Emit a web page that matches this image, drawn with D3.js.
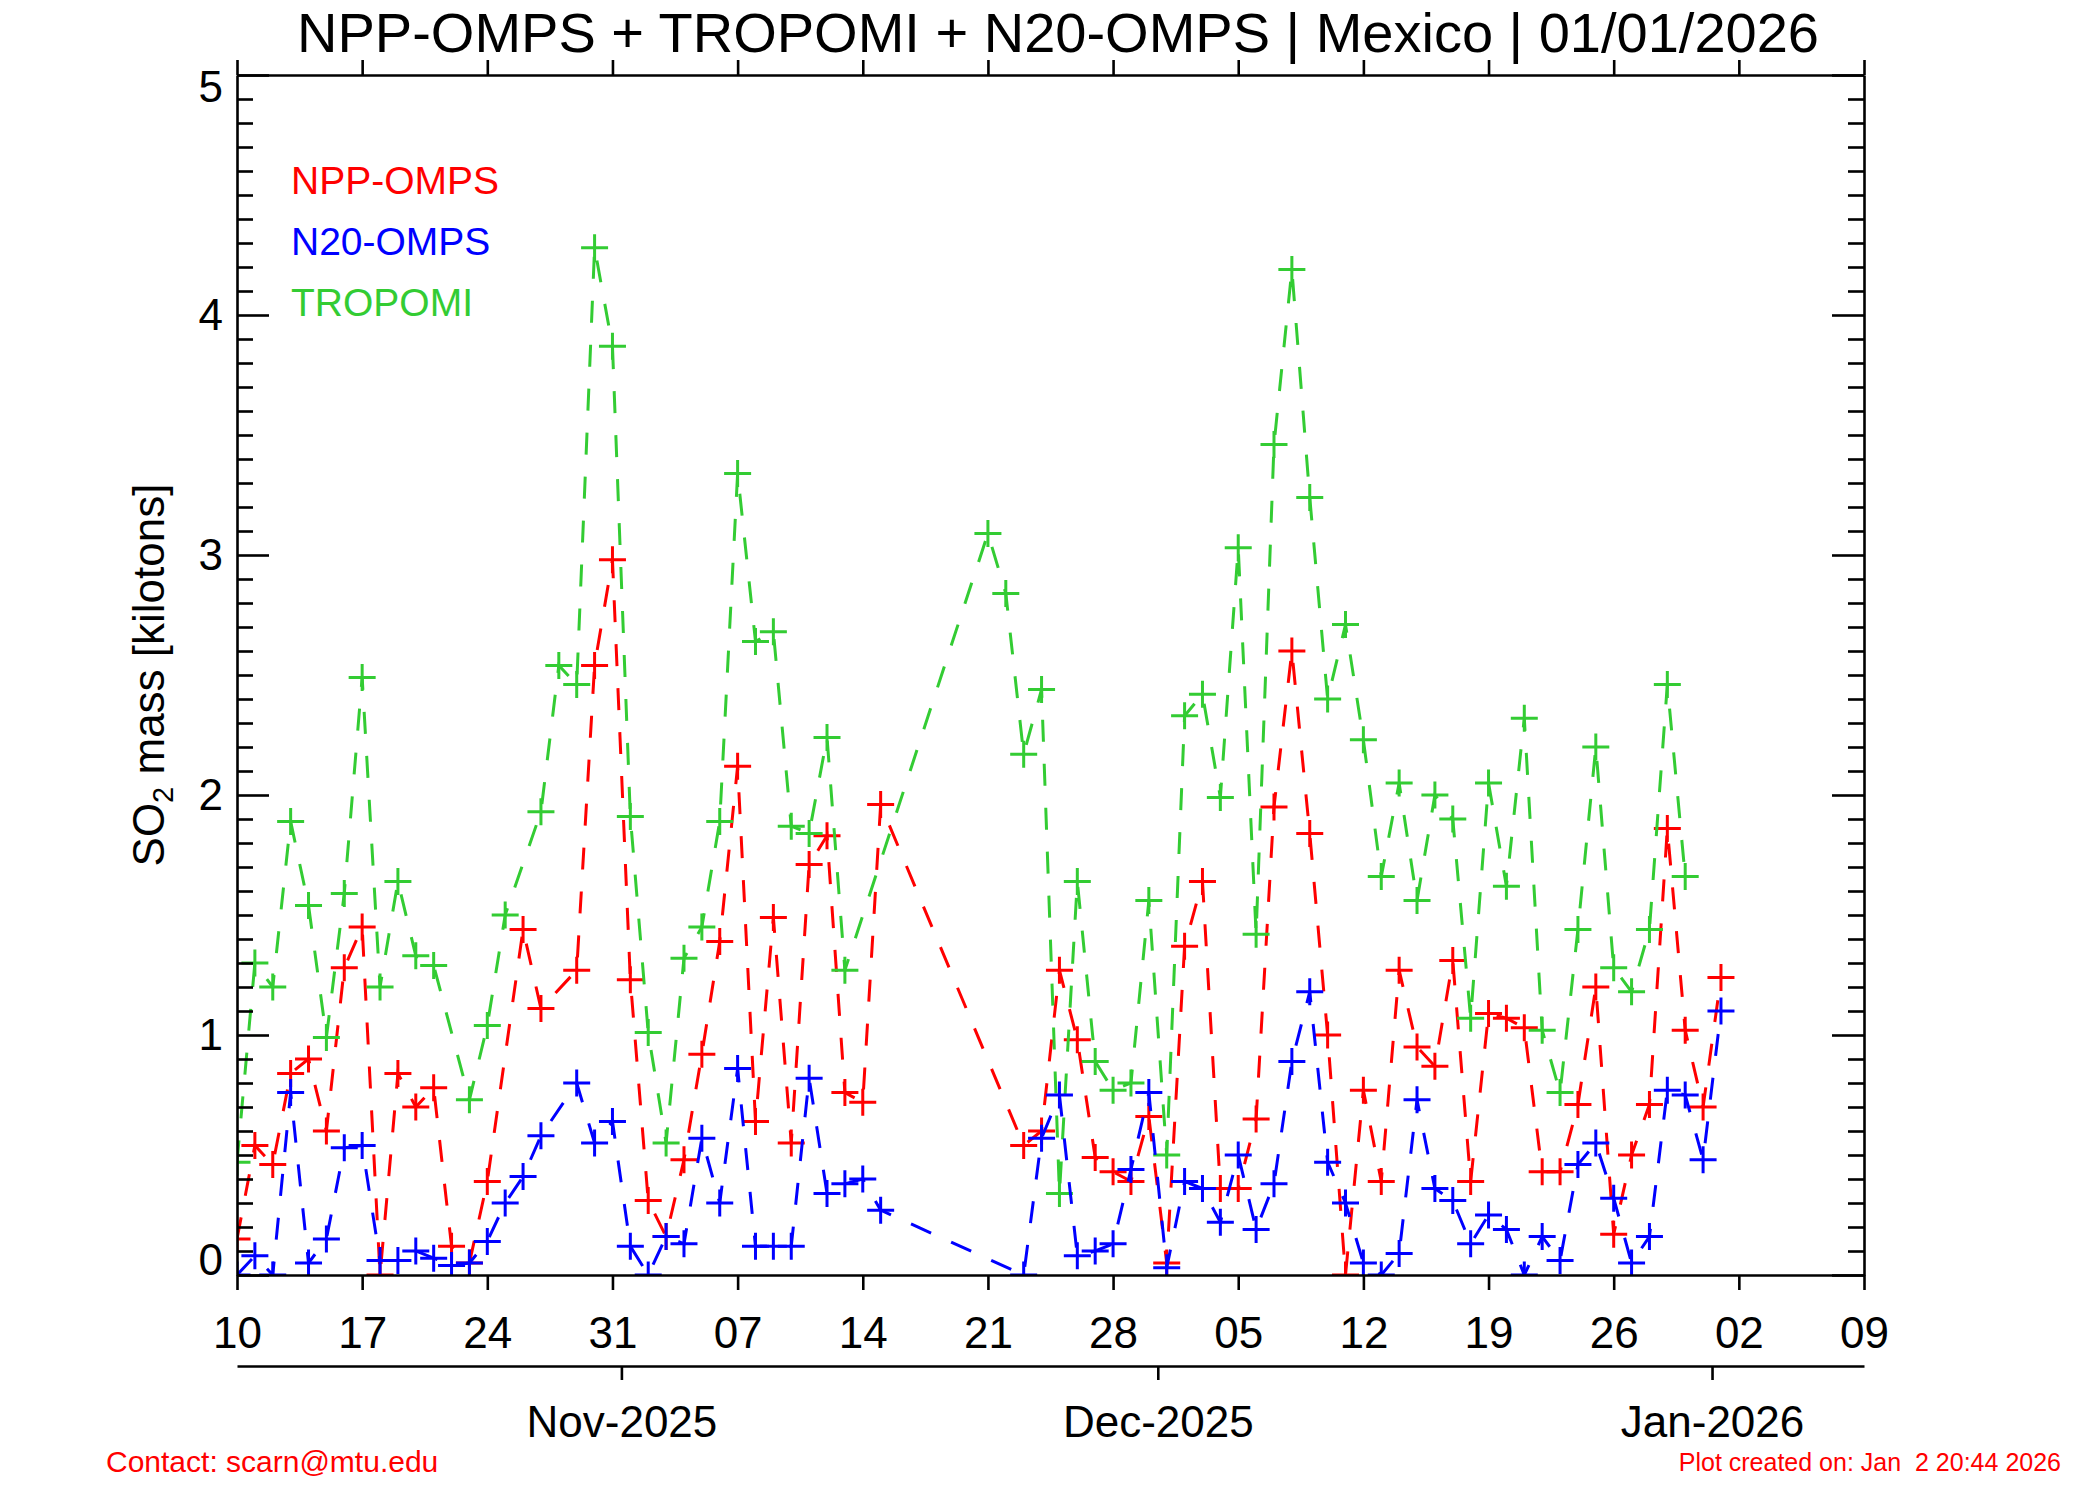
<!DOCTYPE html>
<html>
<head>
<meta charset="utf-8">
<script src="https://cdn.jsdelivr.net/npm/d3@7"></script>
<style>
html,body{margin:0;padding:0;background:#fff;}
svg{display:block;font-family:"Liberation Sans",Arial,Helvetica,sans-serif;}
</style>
</head>
<body>
<svg id="chart" width="2100" height="1500"></svg>
<script>
// ---------------- data ----------------
const titleText = "NPP-OMPS + TROPOMI + N20-OMPS | Mexico | 01/01/2026";
const contactText = "Contact: scarn@mtu.edu";
const createdText = "Plot created on: Jan  2 20:44 2026";
const xDomain = ["2025-10-10", "2026-01-09"];
const yDomain = [0, 5];
const yMajorTicks = [0, 1, 2, 3, 4, 5];
const seriesNames = ["NPP-OMPS", "N20-OMPS", "TROPOMI"];
const seriesColors = ["#ff0000", "#0000ff", "#33cc33"];

// NPP-OMPS (red)
const nppDates = ["10-10","10-11","10-12","10-13","10-14","10-15","10-16","10-17","10-18","10-19","10-20","10-21","10-22","10-23","10-24","10-26","10-27","10-29","10-30","10-31",
  "11-01","11-02","11-03","11-04","11-05","11-06","11-07","11-08","11-09","11-10","11-11","11-12","11-13","11-14","11-15","11-23","11-24","11-25","11-26","11-27","11-28","11-29","11-30",
  "12-01","12-02","12-03","12-04","12-05","12-06","12-07","12-08","12-09","12-10","12-11","12-12","12-13","12-14","12-15","12-16","12-17","12-18","12-19","12-20","12-21","12-22","12-23","12-24","12-25","12-26","12-27","12-28","12-29","12-30","12-31","01-01"];
const nppValues = [0.15,0.54,0.46,0.84,0.90,0.60,1.28,1.45,0.00,0.84,0.70,0.78,0.12,0.05,0.39,1.44,1.11,1.27,2.54,2.98,
  1.23,0.31,0.16,0.48,0.92,1.39,2.12,0.64,1.49,0.55,1.71,1.83,0.76,0.72,1.96,0.54,0.60,1.27,0.98,0.49,0.43,0.39,0.66,
  0.05,1.37,1.64,0.36,0.36,0.65,1.95,2.60,1.84,1.00,0.00,0.77,0.39,1.27,0.95,0.87,1.31,0.39,1.09,1.07,1.03,0.43,0.43,0.71,1.20,0.17,0.50,0.71,1.86,1.02,0.70,1.24];

// N20-OMPS (blue)
const n20Dates = ["10-10","10-11","10-12","10-13","10-14","10-15","10-16","10-17","10-18","10-19","10-20","10-21","10-22","10-23","10-24","10-25","10-26","10-27","10-29","10-30","10-31",
  "11-01","11-02","11-03","11-04","11-05","11-06","11-07","11-08","11-09","11-10","11-11","11-12","11-13","11-14","11-15","11-23","11-24","11-25","11-26","11-27","11-28","11-29","11-30",
  "12-01","12-02","12-03","12-04","12-05","12-06","12-07","12-08","12-09","12-10","12-11","12-12","12-13","12-14","12-15","12-16","12-17","12-18","12-19","12-20","12-21","12-22","12-23","12-24","12-25","12-26","12-27","12-28","12-29","12-30","12-31","01-01"];
const n20Values = [0.00,0.08,0.00,0.76,0.05,0.15,0.53,0.54,0.06,0.06,0.10,0.07,0.04,0.05,0.14,0.30,0.41,0.58,0.80,0.55,0.64,
  0.12,0.00,0.16,0.13,0.57,0.30,0.86,0.12,0.12,0.12,0.82,0.34,0.38,0.40,0.27,0.00,0.57,0.75,0.08,0.10,0.13,0.44,0.76,
  0.03,0.39,0.36,0.22,0.50,0.19,0.38,0.89,1.18,0.47,0.30,0.05,0.00,0.09,0.73,0.36,0.31,0.13,0.25,0.19,0.00,0.16,0.06,0.46,0.55,0.32,0.05,0.16,0.77,0.75,0.48,1.10];

// TROPOMI (green)
const tropDates = ["10-10","10-11","10-12","10-13","10-14","10-15","10-16","10-17","10-18","10-19","10-20","10-21","10-23","10-24","10-25","10-27","10-28","10-29","10-30","10-31",
  "11-01","11-02","11-03","11-04","11-05","11-06","11-07","11-08","11-09","11-10","11-11","11-12","11-13","11-21","11-22","11-23","11-24","11-25","11-26","11-27","11-28","11-29","11-30",
  "12-01","12-02","12-03","12-04","12-05","12-06","12-07","12-08","12-09","12-10","12-11","12-12","12-13","12-14","12-15","12-16","12-17","12-18","12-19","12-20","12-21","12-22","12-23","12-24","12-25","12-26","12-27","12-28","12-29","12-30"];
const tropValues = [0.47,1.30,1.20,1.89,1.54,0.99,1.59,2.49,1.20,1.64,1.33,1.29,0.73,1.04,1.50,1.93,2.54,2.46,4.28,3.87,
  1.91,1.01,0.55,1.32,1.45,1.89,3.34,2.64,2.68,1.87,1.84,2.24,1.27,3.09,2.84,2.17,2.44,0.34,1.64,0.89,0.77,0.80,1.56,
  0.50,2.33,2.42,1.99,3.03,1.42,3.46,4.19,3.24,2.40,2.71,2.23,1.66,2.05,1.56,2.00,1.90,1.07,2.05,1.62,2.32,1.02,0.76,1.44,2.20,1.28,1.18,1.44,2.46,1.66];

// ---------------- helpers ----------------
const parseISO = d3.utcParse("%Y-%m-%d");
function parseMD(s) {
  const m = +s.slice(0, 2);
  return parseISO((m >= 10 ? "2025-" : "2026-") + s);
}
function zip(dates, values) { return dates.map((d, i) => ({ date: parseMD(d), value: values[i] })); }

const series = [
  { name: "NPP-OMPS", color: seriesColors[0], data: zip(nppDates, nppValues) },
  { name: "TROPOMI", color: seriesColors[2], data: zip(tropDates, tropValues) },
  { name: "N20-OMPS", color: seriesColors[1], data: zip(n20Dates, n20Values) }
];

// ---------------- layout ----------------
const L = 237, R = 1864, T = 75, B = 1275;
const FONT = '"Liberation Sans",Arial,Helvetica,sans-serif';
const svg = d3.select("#chart");

const x = d3.scaleUtc().domain(xDomain.map(parseISO)).range([L, R]);
const y = d3.scaleLinear().domain(yDomain).range([B, T]);

const weekTicks = d3.utcDay.range(x.domain()[0], d3.utcDay.offset(x.domain()[1], 1), 7);
const monthTicks = d3.utcMonth.range(x.domain()[0], x.domain()[1]).map(m => new Date(+m - 12 * 3600e3));
const minorTicks = d3.range(0, 50).map(i => i / 10).filter(v => !yMajorTicks.includes(v));

function styleAxis(g, sw) {
  g.attr("font-family", FONT);
  g.selectAll("line").attr("stroke", "#000").attr("stroke-width", sw);
  g.selectAll("path.domain").attr("stroke", "#000").attr("stroke-width", sw);
}

// clip
svg.append("defs").append("clipPath").attr("id", "plotclip")
  .append("rect").attr("x", L).attr("y", T).attr("width", R - L).attr("height", B - T);

// ---------------- data marks ----------------
const line = d3.line().x(d => x(d.date)).y(d => y(d.value));
const plotG = svg.append("g").attr("clip-path", "url(#plotclip)");
const ms = 13.5;
series.forEach(s => {
  plotG.append("path").datum(s.data)
    .attr("d", line).attr("fill", "none")
    .attr("stroke", s.color).attr("stroke-width", 3)
    .attr("stroke-dasharray", "22,22");
  plotG.selectAll(null).data(s.data).enter().append("path")
    .attr("transform", d => `translate(${x(d.date)},${y(d.value)})`)
    .attr("d", `M${-ms},0H${ms}M0,${-ms}V${ms}`)
    .attr("stroke", s.color).attr("stroke-width", 3).attr("fill", "none");
});

// ---------------- axes ----------------
const gB = svg.append("g").attr("transform", `translate(0,${B})`)
  .call(d3.axisBottom(x).tickValues(weekTicks).tickSizeInner(15).tickSizeOuter(0)
    .tickPadding(27).tickFormat(d3.utcFormat("%d")));
styleAxis(gB, 2.6);
gB.selectAll("text").attr("font-size", 44).attr("fill", "#000");

const gT = svg.append("g").attr("transform", `translate(0,${T})`)
  .call(d3.axisTop(x).tickValues(weekTicks).tickSizeInner(15).tickSizeOuter(0).tickFormat(""));
styleAxis(gT, 2.6);

const gL = svg.append("g").attr("transform", `translate(${L},0)`)
  .call(d3.axisLeft(y).tickValues(yMajorTicks).tickSizeInner(-32).tickSizeOuter(0)
    .tickPadding(14).tickFormat(d3.format("d")));
styleAxis(gL, 2.6);
gL.selectAll("text").attr("font-size", 44).attr("fill", "#000")
  .attr("dy", d => d === 0 ? "-0.02em" : d === 5 ? "0.6em" : "0.34em");
const gLm = svg.append("g").attr("transform", `translate(${L},0)`)
  .call(d3.axisLeft(y).tickValues(minorTicks).tickSizeInner(-16).tickSizeOuter(0).tickFormat(""));
styleAxis(gLm, 2.6);
gLm.select("path.domain").remove();

const gR = svg.append("g").attr("transform", `translate(${R},0)`)
  .call(d3.axisRight(y).tickValues(yMajorTicks).tickSizeInner(-32).tickSizeOuter(0).tickFormat(""));
styleAxis(gR, 2.6);
const gRm = svg.append("g").attr("transform", `translate(${R},0)`)
  .call(d3.axisRight(y).tickValues(minorTicks).tickSizeInner(-16).tickSizeOuter(0).tickFormat(""));
styleAxis(gRm, 2.6);
gRm.select("path.domain").remove();

const gM = svg.append("g").attr("transform", `translate(0,1366)`)
  .call(d3.axisBottom(x).tickValues(monthTicks).tickSizeInner(14).tickSizeOuter(0)
    .tickPadding(26).tickFormat(d => d3.utcFormat("%b-%Y")(new Date(+d + 12 * 3600e3))));
styleAxis(gM, 2.6);
gM.selectAll("text").attr("font-size", 44).attr("fill", "#000");

// ---------------- texts ----------------
svg.append("text").attr("x", 1058).attr("y", 52).attr("text-anchor", "middle")
  .attr("font-size", 56).attr("font-family", FONT).attr("fill", "#000").text(titleText);

const yl = svg.append("text").attr("transform", "translate(164,675) rotate(-90)")
  .attr("text-anchor", "middle").attr("font-size", 44).attr("font-family", FONT).attr("fill", "#000");
yl.append("tspan").text("SO");
yl.append("tspan").attr("font-size", 29).attr("dy", 9).text("2");
yl.append("tspan").attr("dy", -9).text(" mass [kilotons]");

const legendOrder = [0, 1, 2];
legendOrder.forEach((k, i) => {
  svg.append("text").attr("x", 291).attr("y", 194 + i * 61)
    .attr("font-size", 39).attr("font-family", FONT).attr("fill", seriesColors[k]).text(seriesNames[k]);
});

svg.append("text").attr("x", 106).attr("y", 1472).attr("font-size", 30).attr("font-family", FONT)
  .attr("fill", "#ff0000").text(contactText);
svg.append("text").attr("x", 2061).attr("y", 1471).attr("text-anchor", "end").attr("font-size", 25)
  .attr("font-family", FONT).attr("fill", "#ff0000").style("white-space", "pre").text(createdText);
</script>
</body>
</html>
